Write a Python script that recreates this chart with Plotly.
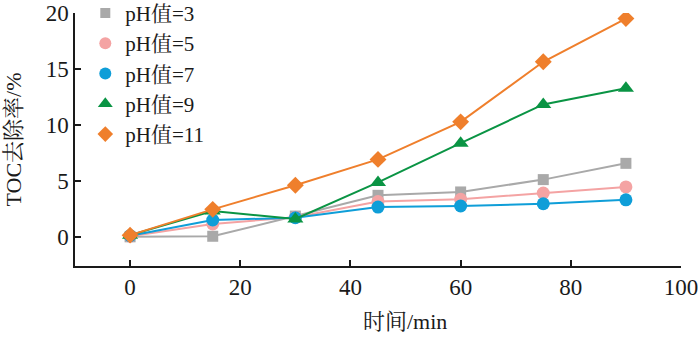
import plotly.graph_objects as go

time_min = [0, 15, 30, 45, 60, 75, 90]
series_names = ["pH值=3", "pH值=5", "pH值=7", "pH值=9", "pH值=11"]
ph3 = [0.05, 0.1, 1.9, 3.75, 4.05, 5.15, 6.6]
ph5 = [0.1, 1.2, 1.8, 3.2, 3.4, 3.95, 4.5]
ph7 = [0.15, 1.55, 1.75, 2.7, 2.8, 3.0, 3.35]
ph9 = [0.2, 2.35, 1.65, 4.9, 8.4, 11.85, 13.3]
ph11 = [0.2, 2.5, 4.65, 6.95, 10.3, 15.65, 19.5]

x_ticks = [0, 20, 40, 60, 80, 100]
y_ticks = [0, 5, 10, 15, 20]

colors = ["#A9A9A9", "#F4A3A3", "#0F9ED8", "#0A9444", "#EF7F2C"]
symbols = ["square", "circle", "circle", "triangle-up", "diamond"]
sizes = [11, 13, 13, 14, 13]
data = [ph3, ph5, ph7, ph9, ph11]

FONT = "Liberation Serif, 'Noto Serif CJK SC', 'Noto Sans CJK SC', serif"

fig = go.Figure()
for name, ys, c, s, sz in zip(series_names, data, colors, symbols, sizes):
    fig.add_trace(go.Scatter(
        x=time_min, y=ys, mode="lines+markers", name=name, showlegend=False,
        line=dict(color=c, width=2),
        marker=dict(symbol=s, size=sz, color=c),
    ))
for name, c, s, sz in zip(series_names, colors, symbols, sizes):
    fig.add_trace(go.Scatter(
        x=[None], y=[None], mode="markers", name=name,
        marker=dict(symbol=s, size=sz - 1, color=c),
    ))

fig.update_layout(
    width=700, height=345,
    margin=dict(l=75, r=19, t=13, b=79, autoexpand=False),
    paper_bgcolor="white", plot_bgcolor="white",
    font=dict(family=FONT, size=21, color="#1a1a1a"),
    showlegend=True,
    legend=dict(x=0.017, y=1.08, xanchor="left", yanchor="top",
                bgcolor="rgba(0,0,0,0)", font=dict(size=21, family=FONT),
                itemwidth=30, tracegroupgap=0),
    xaxis=dict(range=[-10, 100], tickvals=x_ticks, showgrid=False, zeroline=False,
               automargin=False, ticklabeloverflow="allow",
               showline=True, linecolor="#1a1a1a", linewidth=1.5,
               ticks="inside", ticklen=6, tickcolor="#1a1a1a", tickwidth=1.5,
               tickfont=dict(size=23)),
    yaxis=dict(range=[-2.55, 20], tickvals=y_ticks, showgrid=False, zeroline=False,
               automargin=False, ticklabeloverflow="allow",
               showline=True, linecolor="#1a1a1a", linewidth=1.5,
               ticks="inside", ticklen=6, tickcolor="#1a1a1a", tickwidth=1.5,
               tickfont=dict(size=23),
               title=dict(text="TOC去除率/%", font=dict(size=22), standoff=18)),
    annotations=[dict(text="时间/min", xref="paper", yref="paper",
                      x=0.545, y=-0.22, xanchor="center", yanchor="middle",
                      showarrow=False, font=dict(size=22))],
)

fig.write_html("out.html")
